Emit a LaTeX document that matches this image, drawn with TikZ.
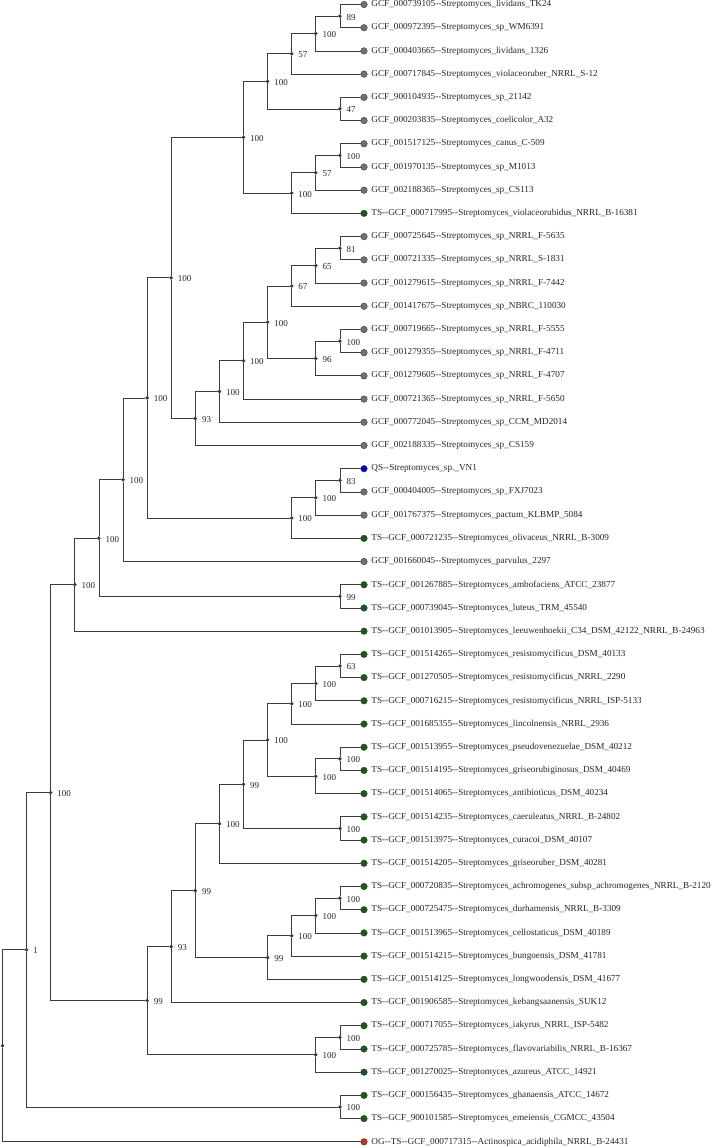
\documentclass[tikz,border=0pt]{standalone}
\usepackage{fontspec}
\setmainfont{Liberation Serif}[Ligatures=TeXOff]
\usepackage{xcolor}
\usepackage{tikz}
\definecolor{Branch}{RGB}{60,60,60}
\definecolor{Leaf-Gray}{RGB}{112,112,112}
\definecolor{TS-Green}{RGB}{24,88,24}
\definecolor{QS-Blue}{RGB}{0,0,200}
\definecolor{OG-Red}{RGB}{200,50,30}
\tikzstyle{e}=[draw=Branch,line width=0.8pt,to path={|- (\tikztotarget)}]
\tikzset{every label/.style={rectangle,fill=none,draw=none,inner sep=0.5pt,text=black!85}}
\tikzstyle{n}=[circle,fill=Branch,draw=Branch,inner sep=0pt,minimum size=3.2pt]
\tikzstyle{leaf}=[circle,draw=black!75,line width=0.4pt,inner sep=0pt,minimum size=6.6pt]
\tikzstyle{taxon}=[label distance=3.2pt,font=\fontsize{9.2}{10}\selectfont]
\tikzstyle{boot}=[label distance=4.2pt,yshift=-1pt,font=\fontsize{9}{10}\selectfont]
\tikzstyle{gcf}=[fill=Leaf-Gray]
\tikzstyle{ts}=[fill=TS-Green]
\tikzstyle{qs}=[fill=QS-Blue]
\tikzstyle{og}=[fill=OG-Red]

\begin{document}
\begin{tikzpicture}[x=24.1pt,y=-23.21pt]
\useasboundingbox (-0.1037,-0.1939) rectangle (29.523,49.267);

% Leaves
\node[leaf,gcf,label={[taxon]right:GCF\_000739105--Streptomyces\_lividans\_TK24}]        (lividans TK24)   at (15,0)  {};
\node[leaf,gcf,label={[taxon]right:GCF\_000972395--Streptomyces\_sp\_WM6391}]              (WM6391)          at (15,1)  {};
\node[leaf,gcf,label={[taxon]right:GCF\_000403665--Streptomyces\_lividans\_1326}]          (lividans 1326)   at (15,2)  {};
\node[leaf,gcf,label={[taxon]right:GCF\_000717845--Streptomyces\_violaceoruber\_NRRL\_S-12}] (violaceoruber) at (15,3)  {};
\node[leaf,gcf,label={[taxon]right:GCF\_900104935--Streptomyces\_sp\_21142}]               (21142)           at (15,4)  {};
\node[leaf,gcf,label={[taxon]right:GCF\_000203835--Streptomyces\_coelicolor\_A32}]         (coelicolor)      at (15,5)  {};
\node[leaf,gcf,label={[taxon]right:GCF\_001517125--Streptomyces\_canus\_C-509}]            (canus)           at (15,6)  {};
\node[leaf,gcf,label={[taxon]right:GCF\_001970135--Streptomyces\_sp\_M1013}]               (M1013)           at (15,7)  {};
\node[leaf,gcf,label={[taxon]right:GCF\_002188365--Streptomyces\_sp\_CS113}]               (CS113)           at (15,8)  {};
\node[leaf,ts, label={[taxon]right:TS--GCF\_000717995--Streptomyces\_violaceorubidus\_NRRL\_B-16381}] (violaceorubidus) at (15,9) {};
\node[leaf,gcf,label={[taxon]right:GCF\_000725645--Streptomyces\_sp\_NRRL\_F-5635}]         (F-5635)          at (15,10) {};
\node[leaf,gcf,label={[taxon]right:GCF\_000721335--Streptomyces\_sp\_NRRL\_S-1831}]         (S-1831)          at (15,11) {};
\node[leaf,gcf,label={[taxon]right:GCF\_001279615--Streptomyces\_sp\_NRRL\_F-7442}]         (F-7442)          at (15,12) {};
\node[leaf,gcf,label={[taxon]right:GCF\_001417675--Streptomyces\_sp\_NBRC\_110030}]         (NBRC)            at (15,13) {};
\node[leaf,gcf,label={[taxon]right:GCF\_000719665--Streptomyces\_sp\_NRRL\_F-5555}]         (F-5555)          at (15,14) {};
\node[leaf,gcf,label={[taxon]right:GCF\_001279355--Streptomyces\_sp\_NRRL\_F-4711}]         (F-4711)          at (15,15) {};
\node[leaf,gcf,label={[taxon]right:GCF\_001279605--Streptomyces\_sp\_NRRL\_F-4707}]         (F-4707)          at (15,16) {};
\node[leaf,gcf,label={[taxon]right:GCF\_000721365--Streptomyces\_sp\_NRRL\_F-5650}]         (F-5650)          at (15,17) {};
\node[leaf,gcf,label={[taxon]right:GCF\_000772045--Streptomyces\_sp\_CCM\_MD2014}]          (MD2014)          at (15,18) {};
\node[leaf,gcf,label={[taxon]right:GCF\_002188335--Streptomyces\_sp\_CS159}]               (CS159)           at (15,19) {};
\node[leaf,qs, label={[taxon]right:QS--Streptomyces\_sp.\_VN1}]                             (VN1)             at (15,20) {};
\node[leaf,gcf,label={[taxon]right:GCF\_000404005--Streptomyces\_sp\_FXJ7023}]             (FXJ7023)         at (15,21) {};
\node[leaf,gcf,label={[taxon]right:GCF\_001767375--Streptomyces\_pactum\_KLBMP\_5084}]      (pactum)          at (15,22) {};
\node[leaf,ts, label={[taxon]right:TS--GCF\_000721235--Streptomyces\_olivaceus\_NRRL\_B-3009}] (olivaceus)    at (15,23) {};
\node[leaf,gcf,label={[taxon]right:GCF\_001660045--Streptomyces\_parvulus\_2297}]           (parvulus)        at (15,24) {};
\node[leaf,ts, label={[taxon]right:TS--GCF\_001267885--Streptomyces\_ambofaciens\_ATCC\_23877}] (ambofaciens) at (15,25) {};
\node[leaf,ts, label={[taxon]right:TS--GCF\_000739045--Streptomyces\_luteus\_TRM\_45540}]    (luteus)          at (15,26) {};
\node[leaf,ts, label={[taxon]right:TS--GCF\_001013905--Streptomyces\_leeuwenhoekii\_C34\_DSM\_42122\_NRRL\_B-24963}] (leeuwenhoekii) at (15,27) {};
\node[leaf,ts, label={[taxon]right:TS--GCF\_001514265--Streptomyces\_resistomycificus\_DSM\_40133}] (resisto 40133) at (15,28) {};
\node[leaf,ts, label={[taxon]right:TS--GCF\_001270505--Streptomyces\_resistomycificus\_NRRL\_2290}] (resisto 2290)  at (15,29) {};
\node[leaf,ts, label={[taxon]right:TS--GCF\_000716215--Streptomyces\_resistomycificus\_NRRL\_ISP-5133}] (resisto 5133) at (15,30) {};
\node[leaf,ts, label={[taxon]right:TS--GCF\_001685355--Streptomyces\_lincolnensis\_NRRL\_2936}] (lincolnensis)   at (15,31) {};
\node[leaf,ts, label={[taxon]right:TS--GCF\_001513955--Streptomyces\_pseudovenezuelae\_DSM\_40212}] (pseudovenezuelae) at (15,32) {};
\node[leaf,ts, label={[taxon]right:TS--GCF\_001514195--Streptomyces\_griseorubiginosus\_DSM\_40469}] (griseorubiginosus) at (15,33) {};
\node[leaf,ts, label={[taxon]right:TS--GCF\_001514065--Streptomyces\_antibioticus\_DSM\_40234}] (antibioticus)   at (15,34) {};
\node[leaf,ts, label={[taxon]right:TS--GCF\_001514235--Streptomyces\_caeruleatus\_NRRL\_B-24802}] (caeruleatus)  at (15,35) {};
\node[leaf,ts, label={[taxon]right:TS--GCF\_001513975--Streptomyces\_curacoi\_DSM\_40107}]    (curacoi)         at (15,36) {};
\node[leaf,ts, label={[taxon]right:TS--GCF\_001514205--Streptomyces\_griseoruber\_DSM\_40281}] (griseoruber)    at (15,37) {};
\node[leaf,ts, label={[taxon]right:TS--GCF\_000720835--Streptomyces\_achromogenes\_subsp\_achromogenes\_NRRL\_B-2120}] (achromogenes) at (15,38) {};
\node[leaf,ts, label={[taxon]right:TS--GCF\_000725475--Streptomyces\_durhamensis\_NRRL\_B-3309}] (durhamensis)  at (15,39) {};
\node[leaf,ts, label={[taxon]right:TS--GCF\_001513965--Streptomyces\_cellostaticus\_DSM\_40189}] (cellostaticus) at (15,40) {};
\node[leaf,ts, label={[taxon]right:TS--GCF\_001514215--Streptomyces\_bungoensis\_DSM\_41781}] (bungoensis)      at (15,41) {};
\node[leaf,ts, label={[taxon]right:TS--GCF\_001514125--Streptomyces\_longwoodensis\_DSM\_41677}] (longwoodensis) at (15,42) {};
\node[leaf,ts, label={[taxon]right:TS--GCF\_001906585--Streptomyces\_kebangsaanensis\_SUK12}] (kebangsaanensis) at (15,43) {};
\node[leaf,ts, label={[taxon]right:TS--GCF\_000717055--Streptomyces\_iakyrus\_NRRL\_ISP-5482}] (iakyrus)        at (15,44) {};
\node[leaf,ts, label={[taxon]right:TS--GCF\_000725785--Streptomyces\_flavovariabilis\_NRRL\_B-16367}] (flavovariabilis) at (15,45) {};
\node[leaf,ts, label={[taxon]right:TS--GCF\_001270025--Streptomyces\_azureus\_ATCC\_14921}]   (azureus)         at (15,46) {};
\node[leaf,ts, label={[taxon]right:TS--GCF\_000156435--Streptomyces\_ghanaensis\_ATCC\_14672}] (ghanaensis)     at (15,47) {};
\node[leaf,ts, label={[taxon]right:TS--GCF\_900101585--Streptomyces\_emeiensis\_CGMCC\_43504}] (emeiensis)      at (15,48) {};
\node[leaf,og, label={[taxon]right:OG--TS--GCF\_000717315--Actinospica\_acidiphila\_NRRL\_B-24431}] (acidiphila) at (15,49) {};

% Splits
\node[n,label={[boot]right:89}]  (a1) at (14,0.5)     {};
\node[n,label={[boot]right:100}] (a2) at (13,1.25)    {};
\node[n,label={[boot]right:57}]  (a3) at (12,2.125)   {};
\node[n,label={[boot]right:47}]  (a4) at (14,4.5)     {};
\node[n,label={[boot]right:100}] (a5) at (11,3.3125)  {};
\node[n,label={[boot]right:100}] (a6) at (14,6.5)     {};
\node[n,label={[boot]right:57}]  (a7) at (13,7.25)    {};
\node[n,label={[boot]right:100}] (a8) at (12,8.125)   {};
\node[n,label={[boot]right:100}] (a9) at (10,5.7188)  {};
\node[n,label={[boot]right:81}]  (b1) at (14,10.5)    {};
\node[n,label={[boot]right:65}]  (b2) at (13,11.25)   {};
\node[n,label={[boot]right:67}]  (b3) at (12,12.125)  {};
\node[n,label={[boot]right:100}] (b4) at (14,14.5)    {};
\node[n,label={[boot]right:96}]  (b5) at (13,15.25)   {};
\node[n,label={[boot]right:100}] (b6) at (11,13.6875) {};
\node[n,label={[boot]right:100}] (b7) at (10,15.3438) {};
\node[n,label={[boot]right:100}] (b8) at (9,16.6719)  {};
\node[n,label={[boot]right:93}]  (b9) at (8,17.8359)  {};
\node[n,label={[boot]right:100}] (c1) at (7,11.7773)  {};
\node[n,label={[boot]right:83}]  (d1) at (14,20.5)    {};
\node[n,label={[boot]right:100}] (d2) at (13,21.25)   {};
\node[n,label={[boot]right:100}] (d3) at (12,22.125)  {};
\node[n,label={[boot]right:100}] (c2) at (6,16.9512)  {};
\node[n,label={[boot]right:100}] (c3) at (5,20.4756)  {};
\node[n,label={[boot]right:99}]  (e1) at (14,25.5)    {};
\node[n,label={[boot]right:100}] (c4) at (4,22.9878)  {};
\node[n,label={[boot]right:100}] (c5) at (3,24.9939)  {};
\node[n,label={[boot]right:63}]  (f1) at (14,28.5)    {};
\node[n,label={[boot]right:100}] (f2) at (13,29.25)   {};
\node[n,label={[boot]right:100}] (f3) at (12,30.125)  {};
\node[n,label={[boot]right:100}] (f4) at (14,32.5)    {};
\node[n,label={[boot]right:100}] (f5) at (13,33.25)   {};
\node[n,label={[boot]right:100}] (f6) at (11,31.6875) {};
\node[n,label={[boot]right:100}] (f7) at (14,35.5)    {};
\node[n,label={[boot]right:99}]  (f8) at (10,33.5938) {};
\node[n,label={[boot]right:100}] (f9) at (9,35.2969)  {};
\node[n,label={[boot]right:100}] (g1) at (14,38.5)    {};
\node[n,label={[boot]right:100}] (g2) at (13,39.25)   {};
\node[n,label={[boot]right:100}] (g3) at (12,40.125)  {};
\node[n,label={[boot]right:99}]  (g4) at (11,41.0625) {};
\node[n,label={[boot]right:99}]  (h1) at (8,38.1797)  {};
\node[n,label={[boot]right:93}]  (h2) at (7,40.5898)  {};
\node[n,label={[boot]right:100}] (k1) at (14,44.5)    {};
\node[n,label={[boot]right:100}] (k2) at (13,45.25)   {};
\node[n,label={[boot]right:99}]  (h3) at (6,42.9199)  {};
\node[n,label={[boot]right:100}] (c6) at (2,33.9569)  {};
\node[n,label={[boot]right:100}] (m1) at (14,47.5)    {};
\node[n,label={[boot]right:1}]   (c7) at (1,40.7285)  {};
\node[n]                         (root) at (0,44.8643) {};

% Edges
\draw[e] (a1) edge (lividans TK24)    (a1) edge (WM6391)
         (a2) edge (a1)               (a2) edge (lividans 1326)
         (a3) edge (a2)               (a3) edge (violaceoruber)
         (a4) edge (21142)            (a4) edge (coelicolor)
         (a5) edge (a3)               (a5) edge (a4)
         (a6) edge (canus)            (a6) edge (M1013)
         (a7) edge (a6)               (a7) edge (CS113)
         (a8) edge (a7)               (a8) edge (violaceorubidus)
         (a9) edge (a5)               (a9) edge (a8)
         (b1) edge (F-5635)           (b1) edge (S-1831)
         (b2) edge (b1)               (b2) edge (F-7442)
         (b3) edge (b2)               (b3) edge (NBRC)
         (b4) edge (F-5555)           (b4) edge (F-4711)
         (b5) edge (b4)               (b5) edge (F-4707)
         (b6) edge (b3)               (b6) edge (b5)
         (b7) edge (b6)               (b7) edge (F-5650)
         (b8) edge (b7)               (b8) edge (MD2014)
         (b9) edge (b8)               (b9) edge (CS159)
         (c1) edge (a9)               (c1) edge (b9)
         (d1) edge (VN1)              (d1) edge (FXJ7023)
         (d2) edge (d1)               (d2) edge (pactum)
         (d3) edge (d2)               (d3) edge (olivaceus)
         (c2) edge (c1)               (c2) edge (d3)
         (c3) edge (c2)               (c3) edge (parvulus)
         (e1) edge (ambofaciens)      (e1) edge (luteus)
         (c4) edge (c3)               (c4) edge (e1)
         (c5) edge (c4)               (c5) edge (leeuwenhoekii)
         (f1) edge (resisto 40133)    (f1) edge (resisto 2290)
         (f2) edge (f1)               (f2) edge (resisto 5133)
         (f3) edge (f2)               (f3) edge (lincolnensis)
         (f4) edge (pseudovenezuelae) (f4) edge (griseorubiginosus)
         (f5) edge (f4)               (f5) edge (antibioticus)
         (f6) edge (f3)               (f6) edge (f5)
         (f7) edge (caeruleatus)      (f7) edge (curacoi)
         (f8) edge (f6)               (f8) edge (f7)
         (f9) edge (f8)               (f9) edge (griseoruber)
         (g1) edge (achromogenes)     (g1) edge (durhamensis)
         (g2) edge (g1)               (g2) edge (cellostaticus)
         (g3) edge (g2)               (g3) edge (bungoensis)
         (g4) edge (g3)               (g4) edge (longwoodensis)
         (h1) edge (f9)               (h1) edge (g4)
         (h2) edge (h1)               (h2) edge (kebangsaanensis)
         (k1) edge (iakyrus)          (k1) edge (flavovariabilis)
         (k2) edge (k1)               (k2) edge (azureus)
         (h3) edge (h2)               (h3) edge (k2)
         (c6) edge (c5)               (c6) edge (h3)
         (m1) edge (ghanaensis)       (m1) edge (emeiensis)
         (c7) edge (c6)               (c7) edge (m1)
         (root) edge (c7)             (root) edge (acidiphila);

\end{tikzpicture}
\end{document}
